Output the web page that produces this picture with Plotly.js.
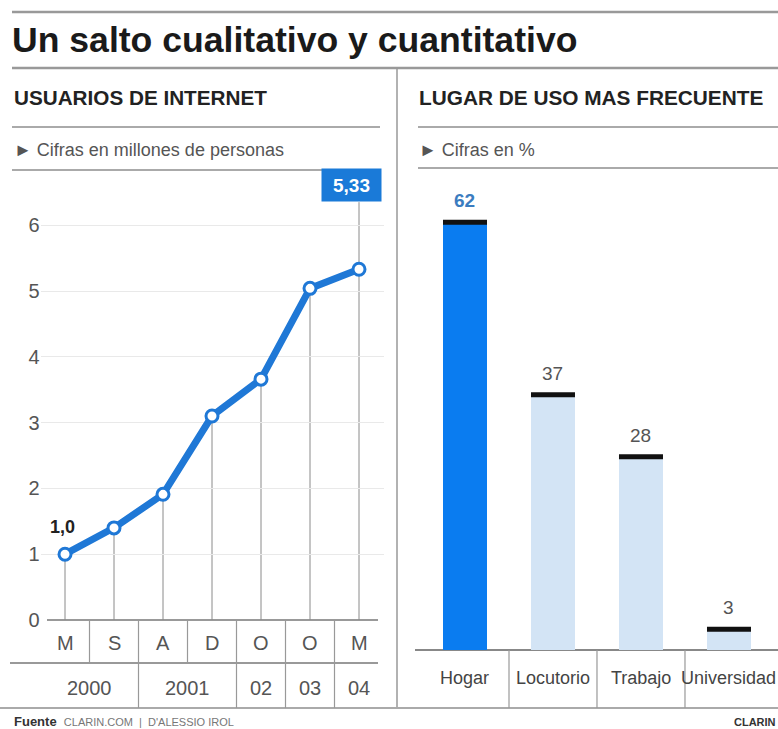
<!DOCTYPE html>
<html>
<head>
<meta charset="utf-8">
<script src="https://cdn.plot.ly/plotly-3.0.1.min.js"></script>
<style>html,body{margin:0;padding:0;background:#fff;}#chart{width:778px;height:729px;}</style>
</head>
<body>
<div id="chart"></div>
<script>
// ---- data ----
const months = ['M', 'S', 'A', 'D', 'O', 'O', 'M'];
const periodYears = ['2000', '2000', '2001', '2001', '02', '03', '04'];
const users = [1.0, 1.4, 1.91, 3.1, 3.66, 5.04, 5.33];
const userTicks = [0, 1, 2, 3, 4, 5, 6];
const places = ['Hogar', 'Locutorio', 'Trabajo', 'Universidad'];
const placeShares = [62, 37, 28, 3];

// ---- layout helpers ----
const W = 778, H = 729;
const px = x => x / W;
const py = y => 1 - y / H;
const FONT = '"Liberation Sans", Arial, sans-serif';
const BLUE = '#1f78d6';
const GRAY = '#9a9a9a';

const idx = months.map((_, i) => i);
const placeIdx = places.map((_, i) => i);

const traces = [
  {
    type: 'scatter', mode: 'lines+markers',
    x: idx, y: users, xaxis: 'x', yaxis: 'y',
    line: {color: BLUE, width: 7},
    marker: {size: 12, color: '#ffffff', line: {color: BLUE, width: 3}},
    cliponaxis: false, hoverinfo: 'skip'
  },
  {
    type: 'bar',
    x: placeIdx, y: placeShares, xaxis: 'x2', yaxis: 'y2',
    width: 0.5,
    marker: {color: placeShares.map((_, i) => i === 0 ? '#0a7cf0' : '#d3e4f5'), line: {width: 0}},
    hoverinfo: 'skip'
  }
];

const shapes = [];
const line = (x0, y0, x1, y1, color, width, xref, yref) =>
  shapes.push({type: 'line', xref: xref || 'paper', yref: yref || 'paper', x0, y0, x1, y1,
               line: {color: color || GRAY, width: width || 1.5}, layer: 'below'});

// frame lines
line(px(12), py(12), 1, py(12), '#999', 2.5);
line(px(12), py(68), 1, py(68), '#999', 2.5);
line(px(12), py(127), px(380), py(127), '#aaa', 2);
line(px(12), py(170), px(380), py(170), '#aaa', 2);
line(px(418), py(127), 1, py(127), '#aaa', 2);
line(px(418), py(168), 1, py(168), '#aaa', 2);
line(px(397), py(68), px(397), py(708), '#999', 1.5);
// left table
line(px(47), py(620), px(378), py(620), '#999', 2);
line(px(10), py(663), px(378), py(663), '#999', 2);
line(0, py(708), 1, py(708), '#aaa', 2);
// right baseline
line(px(415), py(650), 1, py(650), '#888', 2);

// drop lines from points
users.forEach((v, i) => {
  const top = (i === users.length - 1) ? 6.35 : v;
  shapes.push({type: 'line', xref: 'x', yref: 'y', x0: i, x1: i, y0: 0, y1: top,
               line: {color: '#8a8a8a', width: 1}, layer: 'below'});
});
// month dividers and year dividers
for (let i = 0; i < months.length - 1; i++) {
  const yearBreak = periodYears[i] !== periodYears[i + 1];
  shapes.push({type: 'line', xref: 'x', yref: 'paper', x0: i + 0.5, x1: i + 0.5,
               y0: py(620), y1: yearBreak ? py(708) : py(663),
               line: {color: '#999', width: 1.2}, layer: 'below'});
}
// category dividers
for (let i = 0; i < places.length - 1; i++) {
  shapes.push({type: 'line', xref: 'x2', yref: 'paper', x0: i + 0.5, x1: i + 0.5,
               y0: py(650), y1: py(708), line: {color: '#999', width: 1.2}, layer: 'below'});
}
// bar caps
placeShares.forEach((v, i) => {
  shapes.push({type: 'line', xref: 'x2', yref: 'y2', x0: i - 0.25, x1: i + 0.25, y0: v, y1: v,
               line: {color: '#111', width: 5}});
});

const annotations = [];
const txt = (text, x, y, opts) => annotations.push(Object.assign({
  text, x, y, xref: 'paper', yref: 'paper', showarrow: false,
  xanchor: 'left', yanchor: 'middle', font: {family: FONT, size: 16, color: '#222'}
}, opts || {}));

txt('Un salto cualitativo y cuantitativo', px(10), py(40), {font: {family: FONT, size: 35.6, color: '#1a1a1a', weight: 'bold'}});
txt('USUARIOS DE INTERNET', px(12), py(98), {font: {family: FONT, size: 20.7, color: '#222', weight: 'bold'}});
txt('► Cifras en millones de personas', px(12), py(150), {font: {family: FONT, size: 18, color: '#555'}});
txt('LUGAR DE USO MAS FRECUENTE', px(417), py(98), {font: {family: FONT, size: 20.8, color: '#222', weight: 'bold'}});
txt('► Cifras en %', px(417), py(150), {font: {family: FONT, size: 18, color: '#555'}});
txt('<b>Fuente</b>  <span style="font-size:11px;color:#777">CLARIN.COM  |  D\'ALESSIO IROL</span>', px(12), py(721),
    {font: {family: FONT, size: 13, color: '#333'}});
txt('<b>CLARIN</b>', 1, py(722), {xanchor: 'right', font: {family: FONT, size: 11, color: '#333'}});

// month labels
months.forEach((m, i) => txt(m, i, py(643), {xref: 'x', xanchor: 'center', font: {family: FONT, size: 20, color: '#555'}}));
// year labels (centered on each group)
const groups = [];
periodYears.forEach((yv, i) => {
  if (!groups.length || groups[groups.length - 1].label !== yv) groups.push({label: yv, first: i, last: i});
  else groups[groups.length - 1].last = i;
});
groups.forEach(g => txt(g.label, (g.first + g.last) / 2, py(688), {xref: 'x', xanchor: 'center', font: {family: FONT, size: 20, color: '#555'}}));

// point labels
annotations.push({text: '<b>1,0</b>', x: 0, y: users[0], xref: 'x', yref: 'y', showarrow: false,
  xanchor: 'center', yanchor: 'middle', yshift: 27, xshift: -3, font: {family: FONT, size: 18, color: '#222'}});
const last = users.length - 1;
annotations.push({text: '<b>' + users[last].toFixed(2).replace('.', ',') + '</b>', x: last, y: 6.35, xref: 'x', yref: 'y',
  showarrow: false, xanchor: 'center', yanchor: 'bottom', xshift: -8, width: 51, height: 24,
  bgcolor: '#1a7ad8', borderpad: 4, font: {family: FONT, size: 19, color: '#ffffff'}});

// bar labels
placeShares.forEach((v, i) => annotations.push({
  text: i === 0 ? '<b>' + v + '</b>' : String(v), x: i, y: v, xref: 'x2', yref: 'y2', showarrow: false,
  xanchor: 'center', yanchor: 'bottom', yshift: 9,
  font: {family: FONT, size: 19, color: i === 0 ? '#3b7cc0' : '#555'}
}));
// category labels
places.forEach((p, i) => txt(p, i, py(678), {xref: 'x2', xanchor: 'center', font: {family: FONT, size: 18, color: '#444'}}));

const layout = {
  width: W, height: H,
  margin: {l: 0, r: 0, t: 0, b: 0},
  paper_bgcolor: '#ffffff', plot_bgcolor: 'rgba(0,0,0,0)',
  showlegend: false,
  xaxis: {domain: [px(40.5), px(383.5)], range: [-0.5, 6.5], showgrid: false, zeroline: false,
          showticklabels: false, showline: false, fixedrange: true},
  yaxis: {domain: [py(620), py(159.4)], range: [0, 7], tickvals: userTicks, ticktext: userTicks.map(String),
          showgrid: true, gridcolor: '#e9e9e9', gridwidth: 1, zeroline: false, showline: false,
          ticks: '', tickfont: {family: FONT, size: 20, color: '#555'}, fixedrange: true},
  xaxis2: {domain: [px(421), 1], range: [-0.5, 3.557], anchor: 'y2', showgrid: false, zeroline: false,
           showticklabels: false, showline: false, fixedrange: true},
  yaxis2: {domain: [py(650), py(167)], range: [0, 70], anchor: 'x2', visible: false, fixedrange: true},
  shapes, annotations
};

Plotly.newPlot('chart', traces, layout, {staticPlot: true, displayModeBar: false});
</script>
</body>
</html>
